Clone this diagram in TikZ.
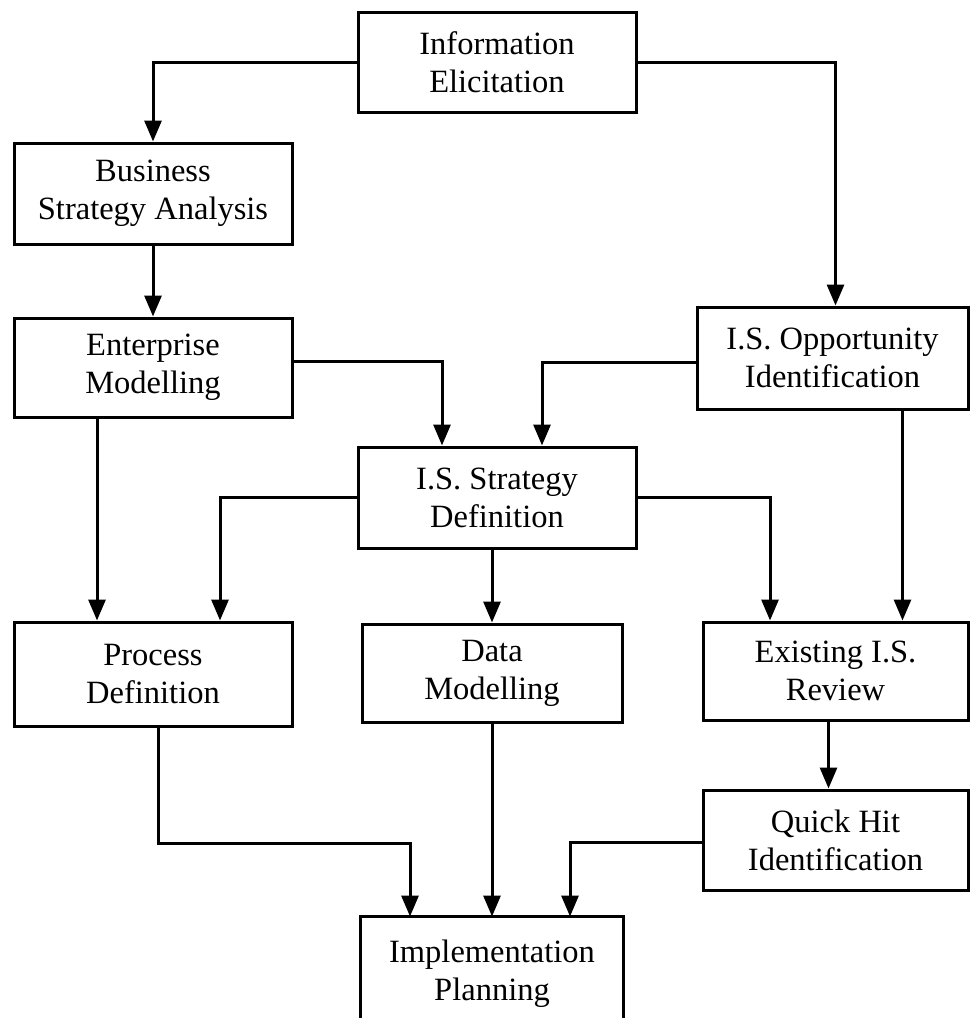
\documentclass[tikz,border=0pt]{standalone}
\usepackage{fontspec}
\setmainfont{Liberation Serif}
\usetikzlibrary{arrows.meta}

\tikzset{
  stagebox/.style={draw, line width=3pt, align=center, inner sep=0pt,
    font=\fontsize{32.5}{38}\selectfont},
  flow/.style={line width=3pt, -{Triangle[length=21pt,width=17pt]}},
  wall/.style={line width=3pt}
}

\begin{document}
\begin{tikzpicture}[x=1pt, y=-1pt]
  \fill[white] (0,0) rectangle (970,1018);
  \useasboundingbox (0,0) rectangle (970,1018);

  % stages
  \node[stagebox, minimum width=278pt, minimum height=100pt] (ie)   at (497,62)    {Information\\Elicitation};
  \node[stagebox, minimum width=278pt, minimum height=101pt] (bsa)  at (153,193.5) {Business\\Strategy Analysis};
  \node[stagebox, minimum width=278pt, minimum height=99pt]  (em)   at (153,367.5) {Enterprise\\Modelling};
  \node[stagebox, minimum width=271pt, minimum height=102pt] (isoi) at (832.5,358) {I.S. Opportunity\\Identification};
  \node[stagebox, minimum width=278pt, minimum height=101pt] (issd) at (497,497.5) {I.S. Strategy\\Definition};
  \node[stagebox, minimum width=278pt, minimum height=104pt] (pd)   at (153,674)   {Process\\Definition};
  \node[stagebox, minimum width=260pt, minimum height=98pt]  (dm)   at (492,673)   {Data\\Modelling};
  \node[stagebox, minimum width=265pt, minimum height=98pt]  (eisr) at (835.5,671) {Existing I.S.\\Review};
  \node[stagebox, minimum width=265pt, minimum height=100pt] (qhi)  at (835.5,840) {Quick Hit\\Identification};
  % last stage runs off the lower edge: only three sides are drawn
  \node[stagebox, draw=none, minimum width=260pt, minimum height=112pt] (ip) at (492,974) {Implementation\\Planning};
  \draw[wall] (ip.south west) -- (ip.north west) -- (ip.north east) -- (ip.south east);

  % connectors
  \draw[flow] (ie.west) -| (bsa.north);
  \draw[flow] (ie.east) -| ([xshift=3pt]isoi.north);
  \draw[flow] (bsa.south) -- (em.north);
  \draw[flow] ([yshift=6pt]em.east) -| ([xshift=-55pt]issd.north);
  \draw[flow] ([yshift=-4pt]isoi.west) -| ([xshift=45pt]issd.north);
  \draw[flow] ([xshift=-56pt]em.south) -- ([xshift=-56pt]em.south |- pd.north);
  \draw[flow] ([xshift=70pt]isoi.south) -- ([xshift=70pt]isoi.south |- eisr.north);
  \draw[flow] (issd.west) -| ([xshift=67pt]pd.north);
  \draw[flow] (issd.east) -| ([xshift=-65.5pt]eisr.north);
  \draw[flow] (dm.north |- issd.south) -- (dm.north);
  \draw[flow] ([xshift=-7pt]eisr.south) -- ([xshift=-7pt]qhi.north);
  \draw[flow] ([xshift=5pt]pd.south) -- ++(0,116) -| ([xshift=-82pt]ip.north);
  \draw[flow] (dm.south) -- (ip.north);
  \draw[flow] ([yshift=-2pt]qhi.west) -| ([xshift=78pt]ip.north);
\end{tikzpicture}
\end{document}
